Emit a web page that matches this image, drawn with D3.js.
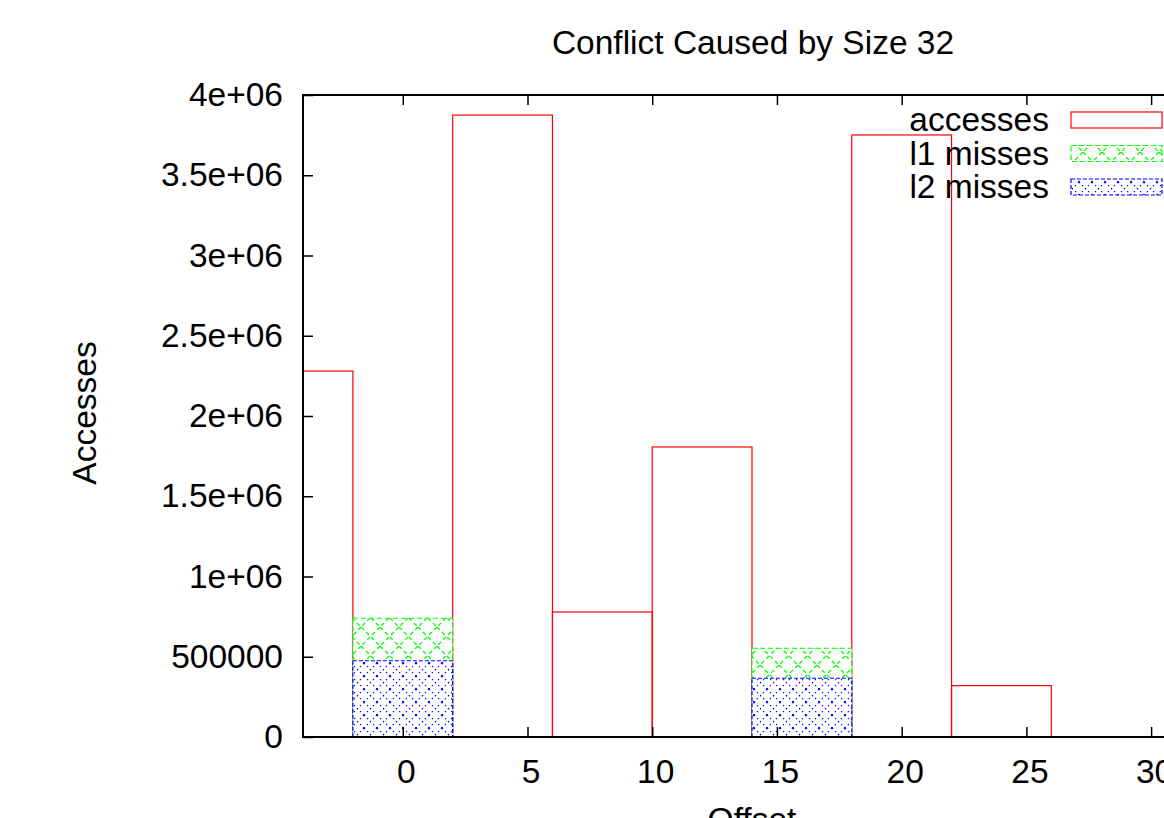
<html>
<head>
<script src="https://d3js.org/d3.v7.min.js"></script>
<style>
  body { margin: 0; background: #fff; }
  svg { font-family: "Liberation Sans", Arial, sans-serif; }
</style>
</head>
<body>
<div id="chart"></div>
<script>
// data
const offsets  = [-4, 0, 4, 8, 12, 16, 20, 24, 28];
const accesses = [2280000, 0, 3875000, 779000, 1807000, 0, 3751000, 320000, 0];
const l1Misses = [0, 740000, 0, 0, 0, 553000, 0, 0, 0];
const l2Misses = [0, 475000, 0, 0, 0, 366000, 0, 0, 0];
const seriesNames = ["accesses", "l1 misses", "l2 misses"];
const xTicks = [0, 5, 10, 15, 20, 25, 30];
const yTicks = [0, 500000, 1000000, 1500000, 2000000, 2500000, 3000000, 3500000, 4000000];
const yTickLabels = ["0", "500000", "1e+06", "1.5e+06", "2e+06", "2.5e+06", "3e+06", "3.5e+06", "4e+06"];

const W = 1164, H = 818;
const plotLeft = 303, plotRight = 1201, plotTop = 95, plotBottom = 737;
const barWidth = 4;

const svg = d3.select("#chart").append("svg")
    .attr("width", W)
    .attr("height", H);

const x = d3.scaleLinear().domain([-4, 32]).range([plotLeft, plotRight]);
const y = d3.scaleLinear().domain([0, 4000000]).range([plotBottom, plotTop]);

const defs = svg.append("defs");
defs.append("clipPath").attr("id", "plotclip")
  .append("rect")
    .attr("x", plotLeft).attr("y", plotTop)
    .attr("width", plotRight - plotLeft).attr("height", plotBottom - plotTop);

// fill patterns (gnuplot style hatching), white underneath
const p1 = defs.append("pattern").attr("id", "pat1")
    .attr("patternUnits", "userSpaceOnUse")
    .attr("width", 19).attr("height", 19);
p1.append("rect").attr("width", 19).attr("height", 19).attr("fill", "#fff");
p1.append("path").attr("d", "M0,0L19,19M19,0L0,19")
    .attr("stroke", "#00ff00").attr("stroke-width", 1.3)
    .attr("stroke-dasharray", "4,3").attr("fill", "none");

const p2 = defs.append("pattern").attr("id", "pat2")
    .attr("patternUnits", "userSpaceOnUse")
    .attr("width", 13).attr("height", 13);
p2.append("rect").attr("width", 13).attr("height", 13).attr("fill", "#fff");
p2.append("path").attr("d", "M0,0L13,13M13,0L0,13")
    .attr("stroke", "#0000ff").attr("stroke-width", 1.1)
    .attr("stroke-dasharray", "1.5,2.8").attr("fill", "none");

const styles = [
  {fill: "none", stroke: "#ff0000", dash: null},
  {fill: "url(#pat1)", stroke: "#00ff00", dash: "5,3"},
  {fill: "url(#pat2)", stroke: "#0000ff", dash: "4,2"}
];
const seriesData = [accesses, l1Misses, l2Misses];

const plot = svg.append("g").attr("clip-path", "url(#plotclip)");

seriesData.forEach(function(vals, s) {
  plot.append("g")
    .selectAll("rect")
    .data(offsets)
    .enter().append("rect")
      .attr("x", function(d) { return x(d - barWidth / 2); })
      .attr("width", function(d) { return x(d + barWidth / 2) - x(d - barWidth / 2); })
      .attr("y", function(d, i) { return y(vals[i]); })
      .attr("height", function(d, i) { return y(0) - y(vals[i]); })
      .attr("fill", styles[s].fill)
      .attr("stroke", styles[s].stroke)
      .attr("stroke-width", 1.2)
      .attr("stroke-dasharray", styles[s].dash);
});

// frame
svg.append("rect")
    .attr("x", plotLeft).attr("y", plotTop)
    .attr("width", plotRight - plotLeft).attr("height", plotBottom - plotTop)
    .attr("fill", "none").attr("stroke", "#000").attr("stroke-width", 2);

// axes
const fontSize = "33.5px";

const yAxis = svg.append("g")
    .attr("transform", "translate(" + plotLeft + ",0)")
    .call(d3.axisLeft(y).tickValues(yTicks)
      .tickFormat(function(d, i) { return yTickLabels[i]; })
      .tickSize(-10).tickPadding(20));

const xAxis = svg.append("g")
    .attr("transform", "translate(0," + plotBottom + ")")
    .call(d3.axisBottom(x).tickValues(xTicks)
      .tickFormat(d3.format("d"))
      .tickSize(-10).tickPadding(22));
xAxis.selectAll(".tick text").attr("dx", 3);

const xTop = svg.append("g")
    .attr("transform", "translate(0," + plotTop + ")")
    .call(d3.axisTop(x).tickValues(xTicks).tickFormat("")
      .tickSize(-10));

[yAxis, xAxis, xTop].forEach(function(g) {
  g.select(".domain").remove();
  g.selectAll(".tick line").attr("stroke", "#000").attr("stroke-width", 1.5);
  g.selectAll("text").attr("font-size", fontSize)
    .attr("font-family", "Liberation Sans, Arial, sans-serif")
    .attr("fill", "#000");
});

// titles
svg.append("text")
    .attr("x", 753).attr("y", 54)
    .attr("text-anchor", "middle")
    .attr("font-size", fontSize)
    .text("Conflict Caused by Size 32");

svg.append("text")
    .attr("transform", "translate(96,413) rotate(-90)")
    .attr("text-anchor", "middle")
    .attr("font-size", fontSize)
    .text("Accesses");

svg.append("text")
    .attr("x", 752).attr("y", 831)
    .attr("text-anchor", "middle")
    .attr("font-size", fontSize)
    .text("Offset");

// legend
const legend = svg.append("g");
seriesNames.forEach(function(name, i) {
  const base = 131 + i * 33.5;
  legend.append("text")
      .attr("x", 1049).attr("y", base)
      .attr("text-anchor", "end")
      .attr("font-size", fontSize)
      .text(name);
  legend.append("rect")
      .attr("x", 1071).attr("y", base - 19)
      .attr("width", 91).attr("height", 16)
      .attr("fill", styles[i].fill === "none" ? "#fff" : styles[i].fill)
      .attr("stroke", styles[i].stroke)
      .attr("stroke-width", 1.2)
      .attr("stroke-dasharray", styles[i].dash);
});
</script>
</body>
</html>
